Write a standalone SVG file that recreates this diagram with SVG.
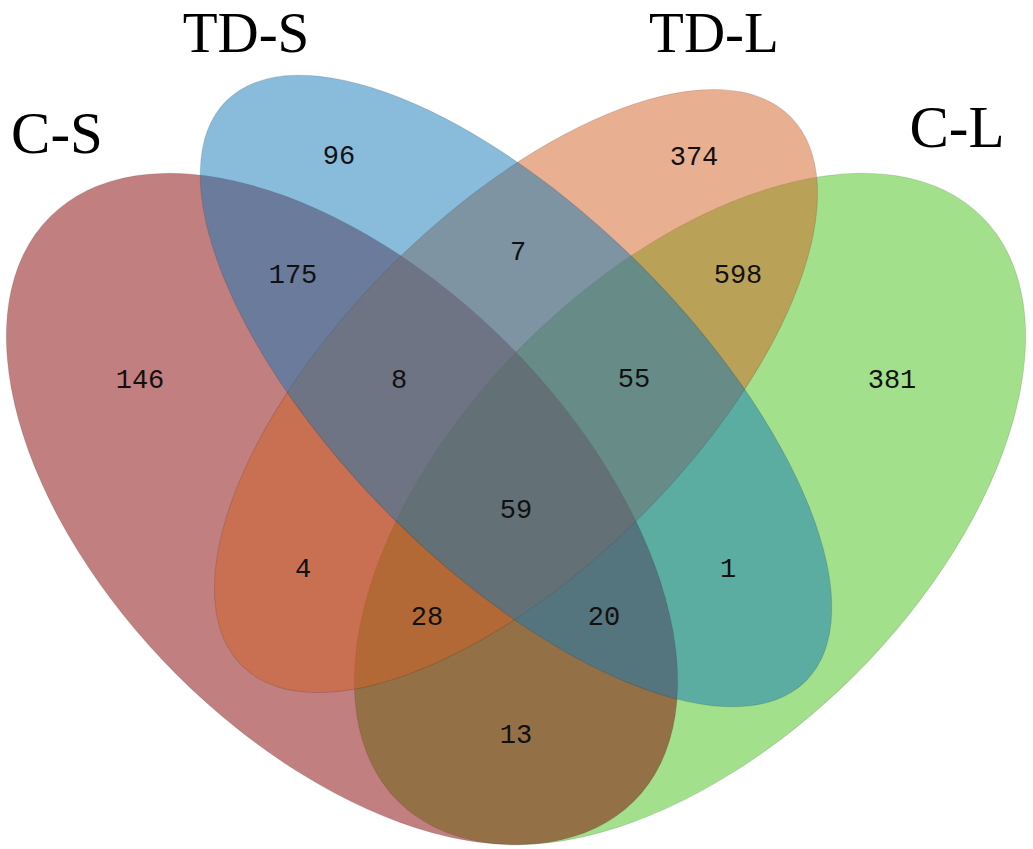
<svg xmlns="http://www.w3.org/2000/svg" width="1033" height="849" viewBox="0 0 1033 849">
<style>
.set{fill-opacity:0.5;stroke:#000;stroke-opacity:0.12;stroke-width:1}
.cat{font-family:"Liberation Serif","Times New Roman",serif;font-size:59px;fill:#000;text-anchor:middle}
.top{font-size:57px}
.n{font-family:"Liberation Mono","DejaVu Sans Mono",monospace;font-size:27px;fill:#111;text-anchor:middle}
</style>
<rect width="1033" height="849" fill="#ffffff"/>
<g id="C-L">
<ellipse class="set" cx="690" cy="509" rx="413" ry="234" transform="rotate(-45 690 509)" fill="#47C119"/>
<text class="cat" x="957" y="147">C-L</text>
</g>
<g id="C-S">
<ellipse class="set" cx="342" cy="509" rx="413" ry="234" transform="rotate(45 342 509)" fill="#850001"/>
<text class="cat" x="57" y="153">C-S</text>
</g>
<g id="TD-L">
<ellipse class="set" cx="516" cy="391" rx="388" ry="177" transform="rotate(-45 516 391)" fill="#D16123"/>
<text class="cat top" x="714" y="52">TD-L</text>
</g>
<g id="TD-S">
<ellipse class="set" cx="516" cy="391" rx="410" ry="177" transform="rotate(45 516 391)" fill="#1377B5"/>
<text class="cat top" x="246" y="52">TD-S</text>
</g>
<g id="connectors"/>
<g id="counts">
<text class="n" x="339" y="164">96</text>
<text class="n" x="140" y="388">146</text>
<text class="n" x="293" y="283">175</text>
<text class="n" x="399" y="388">8</text>
<text class="n" x="518" y="260">7</text>
<text class="n" x="634" y="387">55</text>
<text class="n" x="516" y="518">59</text>
<text class="n" x="427" y="625">28</text>
<text class="n" x="604" y="625">20</text>
<text class="n" x="694" y="165">374</text>
<text class="n" x="738" y="283">598</text>
<text class="n" x="892" y="388">381</text>
<text class="n" x="303" y="577">4</text>
<text class="n" x="728" y="577">1</text>
<text class="n" x="516" y="743">13</text>
</g>
</svg>
